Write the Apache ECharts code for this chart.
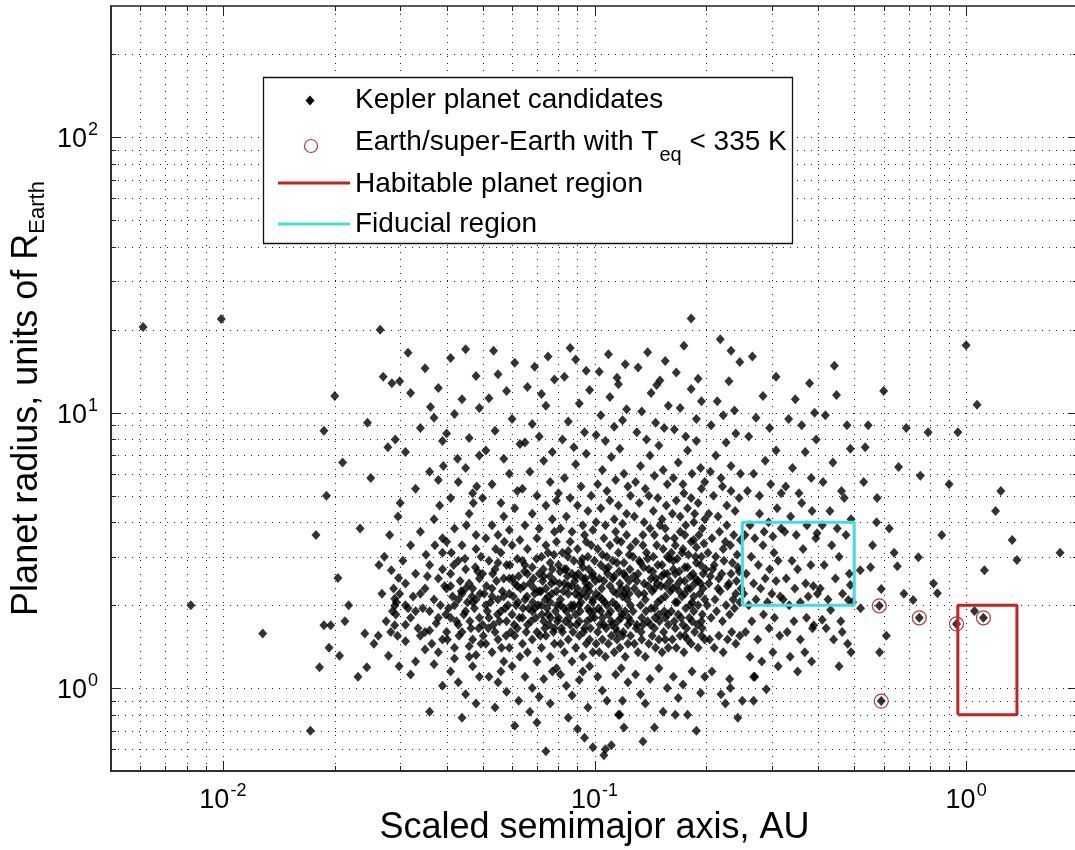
<!DOCTYPE html>
<html><head><meta charset="utf-8">
<script src="https://cdn.jsdelivr.net/npm/echarts@6/dist/echarts.min.js"></script>
<style>html,body{margin:0;padding:0;background:#fff}#c{width:1075px;height:850px}</style>
</head><body><div id="c"></div>
<script>
// ---------- axes ----------
const xRange = [0.005, 2];
const yRange = [0.5, 300];
const xGridValues = [0.006,0.007,0.008,0.009,0.01,0.02,0.03,0.04,0.05,0.06,0.07,0.08,0.09,0.1,0.2,0.3,0.4,0.5,0.6,0.7,0.8,0.9,1,2];
const yGridValues = [0.6,0.7,0.8,0.9,1,2,3,4,5,6,7,8,9,10,20,30,40,50,60,70,80,90,100,200];
const xTickValues = [0.01, 0.1, 1];
const xTickExponents = ['-2', '-1', '0'];
const yTickValues = [1, 10, 100];
const yTickExponents = ['0', '1', '2'];
const xTitle = 'Scaled semimajor axis, AU';
const yTitleMain = 'Planet radius, units of R';
const yTitleSub = 'Earth';
const legendLabels = ['Kepler planet candidates', 'Earth/super-Earth with T', 'eq', ' < 335 K', 'Habitable planet region', 'Fiducial region'];

// ---------- data: [semimajor axis AU, radius R_Earth] ----------
const keplerInner = [
[0.0061,20.5],[0.0099,21.9],[0.0082,2.0],[0.0128,1.58],
[0.0172,0.70],[0.0182,1.19],[0.0187,1.69],[0.0195,1.69],[0.0193,1.40],[0.0204,2.51],[0.0206,1.31],[0.0187,8.6],[0.0190,5.0],[0.0200,11.5],[0.0178,3.6],[0.0213,1.75],[0.0218,2.0],[0.0210,6.6],
[0.0241,1.58],[0.0244,1.19],[0.0263,2.80],[0.0279,1.31],[0.0284,2.68],[0.029,2.11],[0.029,1.99],[0.029,1.69],[0.0297,2.51],[0.0265,20],[0.0270,13.5],[0.0285,12.8],[0.0278,7.5],[0.025,5.8],[0.0245,9.2],[0.0292,1.85],[0.0288,2.3],[0.0295,1.55],[0.0293,2.05],[0.0299,2.2],[0.0286,1.9],[0.0283,1.6],[0.0275,1.75],[0.0231,1.1],[0.0255,1.45],[0.0268,2.2],[0.0272,3.0],[0.0296,4.2],[0.0281,3.6],[0.0291,8.0],[0.0299,13.0],[0.0234,3.8],[0.0262,1.55],[0.0298,1.2],
[0.031,2.0],[0.032,1.8],[0.033,1.9],[0.031,1.7],[0.034,2.2],[0.035,1.6],[0.036,1.9],[0.037,2.1],[0.038,1.8],[0.039,1.5],[0.031,2.4],[0.033,2.6],[0.035,2.3],[0.036,2.8],[0.038,2.5],[0.039,3.1],[0.032,3.3],[0.034,3.7],[0.037,4.1],[0.039,3.5],[0.030,4.7],[0.033,5.3],[0.036,6.1],[0.038,5.7],[0.031,7.2],[0.034,8.8],[0.037,9.6],[0.039,7.9],[0.032,11.8],[0.035,14.5],[0.038,12.3],[0.036,0.82],[0.039,1.02],[0.033,1.25],[0.035,1.38],[0.037,1.22],[0.031,1.48],[0.034,1.55],[0.038,1.35],[0.032,1.12],[0.036,1.62],[0.0395,2.35],[0.0385,2.0],[0.0375,1.72],[0.0345,1.95],[0.0325,2.15],[0.0355,2.55],[0.0365,1.45],[0.0315,1.95],[0.0335,1.65],[0.0383,4.6],[0.0352,3.05],[0.0392,6.4],[0.0305,2.9],[0.0362,10.5],[0.0315,16.5],[0.0398,1.85],[0.0390,2.7],[0.0372,3.3],
[0.040,1.6],[0.041,1.8],[0.042,2.0],[0.043,1.7],[0.044,2.2],[0.045,1.9],[0.046,2.4],[0.047,1.5],[0.048,2.1],[0.049,1.8],[0.040,2.3],[0.041,2.6],[0.042,1.4],[0.043,2.9],[0.044,1.6],[0.045,2.7],[0.046,1.3],[0.047,2.3],[0.048,3.2],[0.049,2.5],
[0.0405,1.95],[0.0415,2.15],[0.0425,1.75],[0.0435,2.45],[0.0445,1.85],[0.0455,2.05],[0.0465,1.65],[0.0475,1.95],[0.0485,2.65],[0.0495,1.45],
[0.040,3.4],[0.042,3.8],[0.044,3.3],[0.046,4.3],[0.048,3.6],[0.041,4.9],[0.043,5.6],[0.045,6.3],[0.047,5.1],[0.049,7.0],[0.040,8.4],[0.042,9.9],[0.044,11.2],[0.046,8.1],[0.048,13.6],[0.041,15.8],[0.045,17.0],[0.049,10.4],
[0.041,1.15],[0.043,1.05],[0.045,0.95],[0.047,1.2],[0.049,1.1],[0.044,0.78],[0.048,0.88],[0.042,1.28],[0.046,1.42],[0.048,1.32],
[0.0402,1.5],[0.0432,1.55],[0.0462,1.75],[0.0492,2.2],[0.0418,2.8],[0.0448,2.95],[0.0478,2.75],[0.0438,2.25],[0.0468,2.15],[0.0488,1.65],[0.0412,3.1],[0.0452,3.9],[0.0472,4.7],[0.0495,3.0],[0.0428,6.8],[0.0482,5.4]
];
const keplerCoreA = [
[0.050,1.7],[0.051,2.0],[0.052,1.8],[0.053,2.3],[0.054,1.6],[0.055,2.1],[0.056,1.9],[0.057,2.5],[0.058,1.75],[0.059,2.2],[0.060,1.85],[0.061,2.4],[0.062,1.65],
[0.050,2.6],[0.052,2.9],[0.054,2.7],[0.056,3.1],[0.058,2.8],[0.060,3.3],[0.062,2.95],
[0.051,1.45],[0.053,1.35],[0.055,1.5],[0.057,1.25],[0.059,1.4],[0.061,1.55],[0.063,1.3],
[0.0505,2.2],[0.0525,2.05],[0.0545,2.45],[0.0565,2.25],[0.0585,2.0],[0.0605,2.15],[0.0625,2.55],
[0.0515,1.9],[0.0535,1.7],[0.0555,1.75],[0.0575,1.95],[0.0595,1.6],[0.0615,2.0],
[0.051,3.5],[0.053,3.9],[0.055,3.6],[0.057,4.2],[0.059,3.75],[0.061,4.5],[0.063,3.45],
[0.050,4.9],[0.053,5.5],[0.056,4.7],[0.059,6.0],[0.062,5.2],[0.051,7.3],[0.054,8.6],[0.057,6.8],[0.060,9.5],[0.063,7.7],
[0.052,11.3],[0.055,13.8],[0.058,12.0],[0.061,15.2],[0.0535,16.8],
[0.052,1.1],[0.055,1.05],[0.058,0.97],[0.061,0.73],[0.056,1.15],[0.060,1.2],[0.0625,0.9],[0.054,0.85],
[0.0502,1.55],[0.0532,2.6],[0.0562,1.4],[0.0592,2.8],[0.0622,2.05],[0.0512,2.35],[0.0542,3.2],[0.0572,3.4],[0.0602,2.5],[0.0632,2.3],
[0.0518,1.65],[0.0548,1.85],[0.0578,1.55],[0.0608,1.7],[0.0628,1.8],
[0.064,1.8],[0.065,2.1],[0.066,1.7],[0.067,2.4],[0.068,1.9],[0.069,2.2],[0.070,1.6],[0.071,2.6],[0.072,2.0],[0.073,1.75],[0.074,2.3],[0.075,1.85],[0.076,2.05],[0.077,2.7],[0.078,1.65],[0.079,2.25],
[0.064,2.9],[0.066,3.2],[0.068,2.75],[0.070,3.5],[0.072,3.0],[0.074,3.3],[0.076,2.85],[0.078,3.7],
[0.064,1.45],[0.066,1.35],[0.068,1.5],[0.070,1.25],[0.072,1.4],[0.074,1.55],[0.076,1.3],[0.078,1.45],
[0.0645,2.35],[0.0665,1.95],[0.0685,2.5],[0.0705,2.0],[0.0725,2.45],[0.0745,1.95],[0.0765,2.4],[0.0785,1.9],
[0.0655,1.6],[0.0675,1.75],[0.0695,1.8],[0.0715,1.55],[0.0735,1.65],[0.0755,1.7],[0.0775,1.6],[0.0795,1.75],
[0.065,3.9],[0.068,4.3],[0.071,3.8],[0.074,4.6],[0.077,4.1],[0.079,3.4],
[0.064,5.3],[0.067,6.1],[0.070,5.0],[0.073,6.7],[0.076,5.6],[0.079,4.8],
[0.065,7.8],[0.068,9.1],[0.071,8.2],[0.074,10.6],[0.077,7.2],
[0.066,12.4],[0.069,14.7],[0.072,11.7],[0.075,16.0],[0.078,13.2],
[0.065,1.1],[0.068,1.0],[0.071,0.93],[0.074,0.59],[0.077,1.15],[0.067,0.82],[0.070,0.75],[0.073,1.08],[0.076,0.88],[0.079,1.18],
[0.0648,2.65],[0.0688,2.3],[0.0728,2.7],[0.0768,2.2],[0.0698,2.95],[0.0738,2.1],[0.0778,3.05],[0.0658,2.15],[0.0718,2.25],[0.0758,2.55],
[0.0642,1.95],[0.0682,2.05],[0.0722,1.85],[0.0762,1.8],[0.0792,2.0],
[0.080,1.8],[0.081,2.1],[0.082,1.6],[0.083,2.4],[0.084,1.9],[0.085,2.2],[0.086,1.7],[0.087,2.6],[0.088,2.0],[0.089,1.85],[0.090,2.3],[0.091,1.75],[0.092,2.05],[0.093,2.5],[0.094,1.65],[0.095,2.15],[0.096,1.95],[0.097,2.35],[0.098,1.8],[0.099,2.1],
[0.080,2.8],[0.082,3.1],[0.084,2.7],[0.086,3.4],[0.088,2.9],[0.090,3.2],[0.092,2.85],[0.094,3.6],[0.096,3.0],[0.098,3.3],
[0.081,1.45],[0.083,1.35],[0.085,1.5],[0.087,1.25],[0.089,1.4],[0.091,1.55],[0.093,1.3],[0.095,1.45],[0.097,1.5],[0.099,1.35],
[0.0805,2.4],[0.0825,2.25],[0.0845,2.55],[0.0865,2.0],[0.0885,2.45],[0.0905,2.6],[0.0925,2.2],[0.0945,2.5],[0.0965,2.7],[0.0985,2.55],
[0.0815,1.65],[0.0835,1.75],[0.0855,1.8],[0.0875,1.6],[0.0895,1.7],[0.0915,1.9],[0.0935,1.6],[0.0955,1.75],[0.0975,1.65],[0.0995,1.9],
[0.081,3.8],[0.084,4.2],[0.087,3.7],[0.090,4.6],[0.093,3.9],[0.096,4.4],[0.099,3.75],
[0.080,5.1],[0.083,5.8],[0.086,4.9],[0.089,6.5],[0.092,5.4],[0.095,7.1],[0.098,5.0],
[0.082,8.0],[0.085,9.3],[0.088,7.5],[0.091,10.8],[0.094,8.5],[0.097,12.1],
[0.083,13.5],[0.089,15.6],[0.095,14.2],[0.086,17.2],
[0.081,1.12],[0.084,1.02],[0.087,0.94],[0.090,0.71],[0.093,1.15],[0.096,0.85],[0.099,0.61],[0.085,0.78],[0.091,1.07],[0.097,1.2],[0.094,0.66],
[0.0808,2.65],[0.0848,3.0],[0.0888,2.2],[0.0928,2.95],[0.0968,2.25],[0.0828,1.95],[0.0868,2.35],[0.0908,2.0],[0.0948,2.3],[0.0988,2.05]
];
const keplerCoreB = [
[0.100,1.8],[0.101,2.2],[0.102,1.6],[0.103,2.5],[0.104,1.9],[0.105,2.1],[0.106,1.7],[0.107,2.7],[0.108,2.0],[0.109,1.85],[0.110,2.35],[0.111,1.75],[0.112,2.05],[0.113,2.55],[0.114,1.65],[0.115,2.2],[0.116,1.95],[0.117,2.4],[0.118,1.8],[0.119,2.15],[0.120,2.6],[0.121,1.9],[0.122,2.3],[0.123,1.7],[0.124,2.45],[0.125,2.0],
[0.100,2.9],[0.102,3.2],[0.104,2.8],[0.106,3.5],[0.108,3.0],[0.110,3.3],[0.112,2.9],[0.114,3.7],[0.116,3.1],[0.118,3.4],[0.120,2.85],[0.122,3.6],[0.124,3.05],
[0.101,1.45],[0.103,1.35],[0.105,1.5],[0.107,1.3],[0.109,1.45],[0.111,1.55],[0.113,1.35],[0.115,1.5],[0.117,1.4],[0.119,1.55],[0.121,1.3],[0.123,1.45],[0.125,1.55],
[0.1005,2.45],[0.1045,2.3],[0.1085,2.6],[0.1125,2.25],[0.1165,2.65],[0.1205,2.2],[0.1245,2.7],
[0.1025,1.95],[0.1065,2.05],[0.1105,1.9],[0.1145,2.0],[0.1185,1.85],[0.1225,2.1],
[0.101,4.0],[0.104,4.5],[0.107,3.9],[0.110,4.8],[0.113,4.1],[0.116,4.6],[0.119,3.95],[0.122,4.3],[0.125,5.0],
[0.102,5.5],[0.105,6.2],[0.108,5.2],[0.111,6.9],[0.114,5.7],[0.117,7.4],[0.120,6.0],[0.123,5.4],
[0.101,8.3],[0.104,9.8],[0.107,7.9],[0.110,11.4],[0.113,8.9],[0.116,12.7],[0.119,9.4],[0.122,10.3],
[0.103,14.1],[0.109,16.3],[0.115,13.4],[0.121,15.0],
[0.102,1.1],[0.105,0.98],[0.108,0.9],[0.111,0.62],[0.114,1.12],[0.117,0.8],[0.120,0.72],[0.123,1.05],[0.106,0.57],[0.118,1.18],[0.107,0.60],[0.116,0.80],[0.119,0.90],
[0.1035,1.7],[0.1075,1.65],[0.1115,1.7],[0.1155,1.75],[0.1195,1.6],[0.1235,1.8],
[0.127,1.9],[0.128,2.3],[0.130,1.7],[0.131,2.6],[0.133,2.0],[0.134,1.8],[0.136,2.4],[0.137,2.1],[0.139,1.75],[0.140,2.7],[0.142,1.95],[0.143,2.25],[0.145,1.65],[0.146,2.5],[0.148,2.05],[0.149,1.85],[0.151,2.35],[0.152,2.8],[0.154,1.9],[0.155,2.15],[0.157,2.6],[0.158,1.7],
[0.127,3.0],[0.129,3.4],[0.132,2.9],[0.135,3.6],[0.138,3.1],[0.141,3.8],[0.144,3.0],[0.147,3.3],[0.150,3.9],[0.153,3.2],[0.156,3.5],[0.159,2.95],
[0.128,1.45],[0.131,1.35],[0.134,1.5],[0.137,1.3],[0.140,1.45],[0.143,1.55],[0.146,1.4],[0.149,1.5],[0.152,1.35],[0.155,1.5],[0.158,1.4],
[0.1275,2.55],[0.1315,2.2],[0.1355,2.75],[0.1395,2.35],[0.1435,2.65],[0.1475,2.4],[0.1515,2.55],[0.1555,2.35],[0.1595,2.45],
[0.1295,1.65],[0.1335,1.6],[0.1375,1.9],[0.1415,1.7],[0.1455,1.8],[0.1495,1.75],[0.1535,1.6],[0.1575,1.85],
[0.128,4.2],[0.132,4.7],[0.136,4.0],[0.140,5.0],[0.144,4.4],[0.148,4.9],[0.152,4.1],[0.156,4.6],
[0.129,5.6],[0.133,6.4],[0.137,5.3],[0.141,7.0],[0.145,5.9],[0.149,7.6],[0.153,6.2],[0.157,5.5],
[0.130,8.5],[0.134,10.1],[0.138,8.0],[0.142,11.8],[0.146,9.2],[0.150,13.1],[0.154,8.8],[0.158,10.6],
[0.131,14.6],[0.139,16.6],[0.147,12.6],[0.155,15.4],
[0.129,1.12],[0.133,0.95],[0.137,0.88],[0.141,1.08],[0.145,0.72],[0.149,1.18],[0.153,0.82],[0.157,1.0],[0.135,0.64],
[0.161,1.9],[0.162,2.3],[0.164,1.75],[0.165,2.6],[0.167,2.05],[0.168,1.85],[0.170,2.45],[0.172,2.15],[0.173,1.7],[0.175,2.75],[0.176,1.95],[0.178,2.3],[0.180,1.8],[0.181,2.55],[0.183,2.05],[0.185,1.9],[0.186,2.4],[0.188,2.85],[0.190,2.0],[0.192,2.2],[0.194,1.75],[0.196,2.6],[0.198,2.1],
[0.161,3.1],[0.164,3.5],[0.167,2.95],[0.170,3.7],[0.173,3.2],[0.176,3.9],[0.179,3.05],[0.182,3.4],[0.185,4.0],[0.188,3.25],[0.191,3.6],[0.194,3.0],[0.197,3.35],
[0.162,1.5],[0.166,1.4],[0.170,1.55],[0.174,1.35],[0.178,1.5],[0.182,1.45],[0.186,1.6],[0.190,1.4],[0.194,1.55],[0.198,1.5],
[0.163,2.7],[0.169,2.25],[0.175,2.45],[0.181,2.3],[0.187,2.5],[0.193,2.4],[0.199,2.7],
[0.165,1.65],[0.171,1.8],[0.177,1.65],[0.183,1.75],[0.189,1.7],[0.195,1.85],
[0.162,4.3],[0.166,4.8],[0.170,4.2],[0.174,5.1],[0.178,4.5],[0.182,4.9],[0.186,4.3],[0.190,4.7],[0.194,5.3],[0.198,4.1],
[0.163,5.8],[0.168,6.6],[0.173,5.5],[0.178,7.3],[0.183,6.0],[0.188,7.9],[0.193,6.3],[0.198,5.6],
[0.164,8.7],[0.170,10.4],[0.176,8.2],[0.182,12.2],[0.188,9.5],[0.194,11.0],
[0.166,14.0],[0.174,17.5],[0.182,22.0],[0.190,13.3],
[0.163,1.1],[0.168,0.92],[0.173,1.03],[0.178,0.8],[0.183,1.15],[0.188,0.7],[0.193,0.96],[0.198,1.1],[0.165,0.80]
];
const keplerCoreDense = [
[0.062,2.35],[0.066,2.6],[0.069,1.95],[0.071,2.25],[0.073,2.55],[0.075,2.15],[0.078,2.45],[0.081,2.0],[0.083,2.7],[0.085,2.35],[0.087,1.95],[0.089,2.55],[0.091,2.15],[0.093,2.75],[0.095,2.4],[0.097,1.9],[0.099,2.6],
[0.103,2.15],[0.106,2.45],[0.109,2.75],[0.112,2.5],[0.115,2.85],[0.118,2.3],[0.121,2.55],[0.124,2.2],[0.13,2.45],[0.133,2.85],[0.136,2.2],[0.139,2.95],[0.142,2.5],[0.145,2.3],[0.148,2.8],[0.151,2.1],[0.154,2.6],[0.157,3.0],
[0.16,2.25],[0.163,2.9],[0.166,2.35],[0.169,2.65],[0.172,3.1],[0.175,2.2],[0.178,2.75],[0.181,2.0],[0.184,2.6],[0.187,3.0],[0.19,2.45],[0.193,2.8],[0.196,2.3],
[0.205,2.55],[0.21,2.8],[0.215,2.3],[0.22,2.6],[0.225,3.4],[0.23,2.4],[0.235,2.85],[0.24,2.2],[0.245,2.65],
[0.135,3.3],[0.145,3.6],[0.155,3.8],[0.165,3.3],[0.175,3.6],[0.185,3.45],[0.195,3.8],[0.125,3.25],[0.115,3.45],[0.105,3.05],[0.095,3.4],[0.085,3.15],[0.075,3.1],[0.065,2.8],[0.055,2.85],
[0.057,2.15],[0.059,2.5],[0.053,2.15],[0.047,2.05],[0.045,2.3],[0.043,2.1],[0.041,2.35],
[0.105,1.8],[0.115,1.6],[0.125,1.75],[0.135,1.7],[0.145,1.95],[0.155,1.8],[0.165,2.05],[0.175,1.55],[0.185,2.15],[0.195,1.65]
];
const keplerOuter = [
[0.201,2.0],[0.203,2.4],[0.206,1.8],[0.208,2.7],[0.211,2.1],[0.213,1.9],[0.216,2.5],[0.218,2.25],[0.221,1.75],[0.223,2.9],[0.226,2.0],[0.228,2.35],[0.231,1.85],[0.233,2.6],[0.236,2.1],[0.238,1.95],[0.241,2.45],[0.243,2.75],[0.246,2.05],[0.248,2.3],
[0.202,3.1],[0.207,3.5],[0.212,3.0],[0.217,3.7],[0.222,3.2],[0.227,3.9],[0.232,3.3],[0.237,3.6],[0.242,3.05],[0.247,3.45],
[0.204,1.5],[0.210,1.4],[0.216,1.55],[0.222,1.35],[0.228,1.5],[0.234,1.6],[0.240,1.45],[0.246,1.55],
[0.203,4.3],[0.209,5.0],[0.215,4.2],[0.221,5.4],[0.227,4.6],[0.233,5.2],[0.239,4.4],[0.245,4.9],
[0.205,6.1],[0.212,7.0],[0.219,5.8],[0.226,7.8],[0.233,6.4],[0.240,8.4],[0.247,6.0],
[0.206,9.0],[0.214,11.0],[0.222,9.8],[0.230,13.0],[0.238,10.2],[0.246,15.3],[0.218,18.5],[0.233,16.8],
[0.207,1.15],[0.219,0.95],[0.231,1.08],[0.243,0.78],[0.225,0.88],[0.232,1.0],[0.25,0.90],[0.268,0.90],[0.268,1.10],
[0.252,2.2],[0.256,2.6],[0.260,2.0],[0.264,3.0],[0.268,2.4],[0.272,2.1],[0.276,2.8],[0.280,2.3],[0.284,3.3],[0.288,2.5],[0.292,2.05],[0.296,2.7],[0.300,2.2],[0.304,3.1],[0.308,2.45],[0.312,2.9],[0.316,2.15],
[0.254,3.6],[0.262,3.9],[0.270,3.5],[0.278,4.3],[0.286,3.7],[0.294,4.0],[0.302,3.55],[0.310,4.5],[0.318,3.8],
[0.255,1.6],[0.265,1.75],[0.275,1.5],[0.285,1.85],[0.295,1.65],[0.305,1.8],[0.315,1.55],
[0.258,5.2],[0.268,6.0],[0.278,5.0],[0.288,6.7],[0.298,5.5],[0.308,7.3],[0.318,5.1],
[0.260,8.2],[0.272,9.6],[0.284,11.5],[0.296,8.8],[0.308,13.5],[0.266,16.0],
[0.262,1.3],[0.282,1.25],[0.302,1.35],[0.290,0.99],[0.270,1.1],[0.312,1.2],
[0.322,2.1],[0.328,2.5],[0.334,2.0],[0.340,2.9],[0.346,2.3],[0.352,2.7],[0.358,2.05],[0.364,3.2],[0.370,2.4],[0.376,2.15],[0.382,2.8],[0.388,2.35],[0.394,3.5],[0.398,2.2],
[0.325,3.7],[0.337,4.2],[0.349,3.6],[0.361,4.7],[0.373,3.9],[0.385,4.4],[0.397,3.65],
[0.330,1.6],[0.344,1.75],[0.358,1.5],[0.372,1.8],[0.386,1.65],
[0.327,5.4],[0.341,6.3],[0.355,5.1],[0.369,7.2],[0.383,5.8],[0.395,8.0],
[0.333,9.5],[0.347,11.2],[0.361,9.0],[0.379,12.8],[0.391,10.0],
[0.336,1.3],[0.352,1.15],[0.368,1.35],[0.384,1.25],
[0.405,2.3],[0.415,2.8],[0.425,2.1],[0.435,3.3],[0.445,2.5],[0.455,3.0],[0.465,2.2],[0.475,3.6],[0.485,2.6],[0.495,2.05],
[0.410,3.9],[0.430,4.4],[0.450,3.8],[0.470,4.9],[0.490,4.1],
[0.420,1.65],[0.440,1.5],[0.460,1.75],[0.480,1.45],[0.464,1.60],[0.488,2.37],[0.482,2.09],[0.432,1.92],[0.41,1.77],[0.389,1.69],
[0.412,5.6],[0.438,6.6],[0.462,5.2],[0.488,7.4],
[0.418,9.8],[0.448,11.6],[0.478,9.0],[0.442,14.8],
[0.455,1.2],[0.490,1.35],
[0.519,2.68],[0.553,2.75],[0.591,2.29],[0.653,2.77],[0.574,4.0],[0.576,4.9],[0.621,3.8],[0.658,6.35],[0.690,8.8],[0.560,3.3],[0.530,5.6],[0.545,9.0],[0.600,12.0],[0.640,3.1],[0.520,1.95],[0.610,1.55],[0.680,2.2],[0.585,1.35],[0.535,7.5],
[0.744,2.99],[0.753,5.9],[0.79,8.5],[0.817,2.40],[0.837,2.21],[0.72,2.09],[1.12,2.68],[1.0,17.6],[1.07,10.7],[0.95,8.5],[1.24,5.2],[1.2,4.4],[1.33,3.45],[1.37,2.92],[1.79,3.1],[0.86,3.6],[0.9,5.5],
[1.053,1.905],[0.584,1.99],[0.748,1.80],[0.942,1.71],[1.113,1.80],[0.591,0.897]
];
const earthLike = [[0.584,1.99],[0.748,1.80],[0.942,1.71],[1.113,1.80],[0.591,0.897]];
const habitableBox = [[0.95,0.8],[1.37,0.8],[1.37,2],[0.95,2],[0.95,0.8]];
const fiducialBox = [[0.25,2],[0.5,2],[0.5,4],[0.25,4],[0.25,2]];

// ---------- styling ----------
const FONT = '"Liberation Sans", Arial, Helvetica, sans-serif';
const RED = '#c8201f';
const CYAN = '#3fdde0';
const CIRCLE = '#b33c3c';
const keplerAll = keplerInner.concat(keplerCoreA, keplerCoreB, keplerCoreDense, keplerOuter);

function isDecade(v){ const l = Math.log10(v); return Math.abs(l - Math.round(l)) < 1e-6; }
function expLabel(v, vals, exps){
  for (let i = 0; i < vals.length; i++) if (Math.abs(v - vals[i]) / vals[i] < 1e-6) return '{b|10}{p|' + exps[i] + '}';
  return '';
}
const tickRich = {
  b: {fontSize: 27, fontFamily: FONT, color: '#000', lineHeight: 32, verticalAlign: 'bottom'},
  p: {fontSize: 18, fontFamily: FONT, color: '#000', lineHeight: 18, verticalAlign: 'top', padding: [0,0,0,1]}
};

function gridSeries(vals, vertical){
  return {
    type: 'custom', silent: true, z: 1, clip: false,
    data: vals.map(v => vertical ? [v, yRange[0]] : [xRange[0], v]),
    renderItem: function(params, api){
      const v = api.value(vertical ? 0 : 1);
      const a = vertical ? api.coord([v, yRange[0]]) : api.coord([xRange[0], v]);
      const b = vertical ? api.coord([v, yRange[1]]) : api.coord([xRange[1], v]);
      const tl = isDecade(v) ? 10 : 5;
      const kids = [];
      if (vertical){
        const x = Math.round(a[0]) + 0.5;
        kids.push({type:'line', shape:{x1:x, y1:a[1], x2:x, y2:b[1]}, style:{stroke:'#222', lineWidth:1, lineDash:[1,6]}});
        kids.push({type:'line', shape:{x1:x, y1:a[1], x2:x, y2:a[1]-tl}, style:{stroke:'#222', lineWidth:1}});
        kids.push({type:'line', shape:{x1:x, y1:b[1], x2:x, y2:b[1]+tl}, style:{stroke:'#222', lineWidth:1}});
      } else {
        const y = Math.round(a[1]) + 0.5;
        kids.push({type:'line', shape:{x1:a[0], y1:y, x2:b[0], y2:y}, style:{stroke:'#222', lineWidth:1, lineDash:[1,6]}});
        kids.push({type:'line', shape:{x1:a[0], y1:y, x2:a[0]+tl, y2:y}, style:{stroke:'#222', lineWidth:1}});
        kids.push({type:'line', shape:{x1:b[0], y1:y, x2:b[0]-tl, y2:y}, style:{stroke:'#222', lineWidth:1}});
      }
      return {type:'group', children: kids};
    }
  };
}

// measure legend text pieces for subscript placement
const mctx = document.createElement('canvas').getContext('2d');
function textW(str, size){ mctx.font = size + 'px ' + FONT; return mctx.measureText(str).width; }
const LTX = 355;
const w1 = textW(legendLabels[1], 28);
const w2 = textW(legendLabels[2], 20);

const chart = echarts.init(document.getElementById('c'), null, {renderer: 'canvas'});
const LX = 263, LY = 77, LW = 529, LH = 166;
const option = {
  backgroundColor: '#fff',
  animation: false,
  textStyle: {fontFamily: FONT},
  grid: {left: 111, top: 6, width: 967, height: 765, outerBoundsMode: 'none', containLabel: false,
         show: true, borderColor: '#222', borderWidth: 1.5, backgroundColor: 'transparent'},
  xAxis: {
    type: 'log', logBase: 10, min: xRange[0], max: xRange[1],
    name: xTitle, nameLocation: 'middle', nameGap: 39, nameMoveOverlap: false,
    nameTextStyle: {fontSize: 36, fontFamily: FONT, color: '#000'},
    axisLine: {show: true, lineStyle: {color: '#222', width: 1.5}},
    axisTick: {show: false}, splitLine: {show: false}, minorTick: {show: false},
    axisLabel: {margin: 11, formatter: v => expLabel(v, xTickValues, xTickExponents), rich: tickRich, showMinLabel: true, showMaxLabel: true, hideOverlap: false}
  },
  yAxis: {
    type: 'log', logBase: 10, min: yRange[0], max: yRange[1],
    name: yTitleMain + '{s|' + yTitleSub + '}', nameLocation: 'middle', nameGap: 66, nameRotate: 90, nameMoveOverlap: false,
    nameTextStyle: {fontSize: 36, fontFamily: FONT, color: '#000', lineHeight: 36, padding: [0, 20, 0, 0], rich: {
      s: {fontSize: 22, fontFamily: FONT, color: '#000', verticalAlign: 'top', lineHeight: 22, padding: [18,0,0,0]}
    }},
    axisLine: {show: true, lineStyle: {color: '#222', width: 1.5}},
    axisTick: {show: false}, splitLine: {show: false}, minorTick: {show: false},
    axisLabel: {margin: 13, formatter: v => expLabel(v, yTickValues, yTickExponents), rich: tickRich, showMinLabel: true, showMaxLabel: true, hideOverlap: false}
  },
  series: [
    gridSeries(xGridValues, true),
    gridSeries(yGridValues, false),
    {name: legendLabels[0], type: 'scatter', data: keplerAll, symbol: 'diamond', symbolSize: [9, 10],
     itemStyle: {color: '#000'}, z: 3, silent: true, large: false},
    {name: legendLabels[4], type: 'line', data: habitableBox, symbol: 'none', lineStyle: {color: RED, width: 3}, z: 4, silent: true},
    {name: legendLabels[5], type: 'line', data: fiducialBox, symbol: 'none', lineStyle: {color: CYAN, width: 3}, z: 4, silent: true},
    {name: 'Earth-like', type: 'scatter', data: earthLike, symbol: 'circle', symbolSize: 14,
     itemStyle: {color: 'rgba(0,0,0,0)', borderColor: CIRCLE, borderWidth: 1.2, opacity: 1}, z: 5, silent: true}
  ],
  graphic: [
    {type: 'rect', z: 50, shape: {x: LX + 0.5, y: LY + 0.5, width: LW, height: LH}, style: {fill: '#fff', stroke: '#111', lineWidth: 1.3}},
    {type: 'polygon', z: 51, shape: {points: [[310,95.5],[314.5,100.5],[310,105.5],[305.5,100.5]]}, style: {fill: '#000'}},
    {type: 'circle', z: 51, shape: {cx: 311, cy: 146, r: 6.5}, style: {fill: 'none', stroke: CIRCLE, lineWidth: 1.2}},
    {type: 'line', z: 51, shape: {x1: 278, y1: 183, x2: 350, y2: 183}, style: {stroke: RED, lineWidth: 3}},
    {type: 'line', z: 51, shape: {x1: 278, y1: 224, x2: 350, y2: 224}, style: {stroke: CYAN, lineWidth: 3}},
    {type: 'text', z: 52, x: LTX, y: 100, style: {text: legendLabels[0], font: '28px ' + FONT, fill: '#000', verticalAlign: 'middle'}},
    {type: 'text', z: 52, x: LTX, y: 142, style: {text: legendLabels[1], font: '28px ' + FONT, fill: '#000', verticalAlign: 'middle'}},
    {type: 'text', z: 52, x: LTX + w1 + 1, y: 155, style: {text: legendLabels[2], font: '20px ' + FONT, fill: '#000', verticalAlign: 'middle'}},
    {type: 'text', z: 52, x: LTX + w1 + w2 + 1, y: 142, style: {text: legendLabels[3], font: '28px ' + FONT, fill: '#000', verticalAlign: 'middle'}},
    {type: 'text', z: 52, x: LTX, y: 184, style: {text: legendLabels[4], font: '28px ' + FONT, fill: '#000', verticalAlign: 'middle'}},
    {type: 'text', z: 52, x: LTX, y: 224, style: {text: legendLabels[5], font: '28px ' + FONT, fill: '#000', verticalAlign: 'middle'}}
  ]
};
chart.setOption(option);
</script>
</body></html>
